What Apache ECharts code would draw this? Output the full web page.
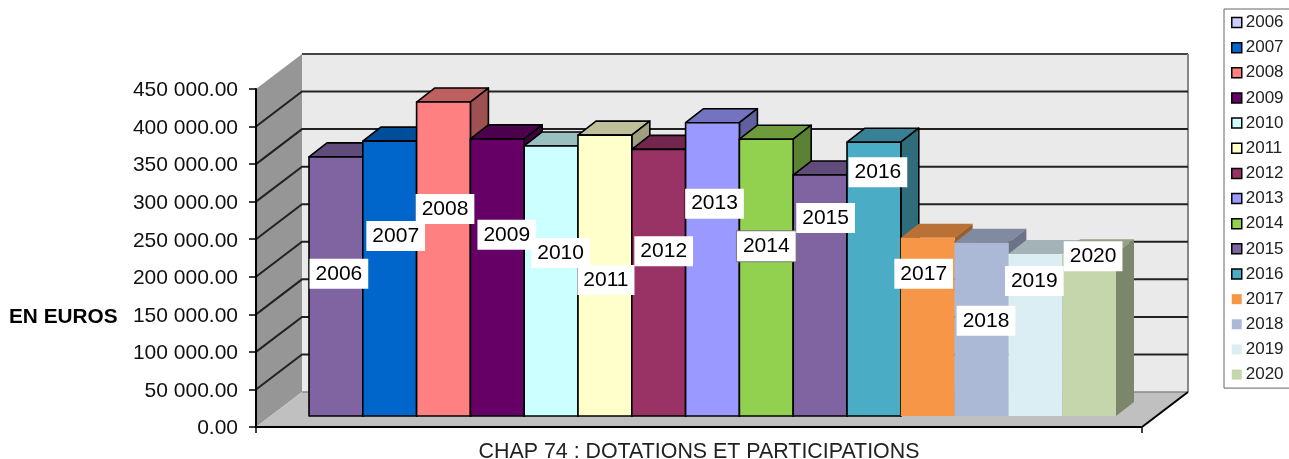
<!doctype html>
<html lang="fr">
<head>
    <meta charset="UTF-8">
    <title>CHAP 74 : DOTATIONS ET PARTICIPATIONS</title>
    <style>
        html, body { margin: 0; padding: 0; background: #fff; }
        #main { width: 1289px; height: 459px; }
    </style>
</head>
<body>
<div id="main"></div>
<script src="https://cdn.jsdelivr.net/npm/echarts@6/dist/echarts.min.js"></script>
<script type="text/javascript">
    const categories = ['CHAP 74 : DOTATIONS ET PARTICIPATIONS']
    const years = ['2006', '2007', '2008', '2009', '2010', '2011', '2012', '2013', '2014', '2015', '2016', '2017', '2018', '2019', '2020']
    const values = [345000, 366000, 418000, 369000, 359500, 374000, 355000, 390500, 368500, 320800, 364500, 237300, 230500, 215700, 216700]
    const barColors = ['#8064A2', '#0066CC', '#FF8080', '#660066', '#CCFFFF', '#FFFFCC', '#993366', '#9999FF', '#92D050', '#8064A2', '#4BACC6', '#F79646', '#ABB9D7', '#DBEEF4', '#C6D6AC']
    const legendColors = ['#CCCCFF', '#0066CC', '#FF8080', '#660066', '#CCFFFF', '#FFFFCC', '#993366', '#9999FF', '#92D050', '#8064A2', '#4BACC6', '#F79646', '#ABB9D7', '#DBEEF4', '#C6D6AC']
    const yTicks = [0, 50000, 100000, 150000, 200000, 250000, 300000, 350000, 400000, 450000]
    const yTickLabels = ['0.00', '50 000.00', '100 000.00', '150 000.00', '200 000.00', '250 000.00', '300 000.00', '350 000.00', '400 000.00', '450 000.00']
    // hand placed labels in the original: shift from the bar's top centre
    const labelShifts = [[3, 117], [6, 95], [1.5, 107], [9.5, 96], [9.5, 107], [1, 145], [5, 102], [2, 81], [0, 107], [5.5, 43], [4, 30], [-4, 36], [4.5, 78], [-1, 27], [4, 3]]

    const FONT = '"Liberation Sans", Arial, sans-serif'
    const WALL_DX = 46, WALL_DY = 35   // depth of the 3D box
    const BAR_DX = 18, BAR_DY = 14     // depth of one bar
    const FLOOR_DY = 11                // bars stand this far behind the front edge
    const BARS_SHIFT = 13.5
    const BARS_RATIO = 807 / 886       // share of the category band used by the bars
    const OUTLINED = 11                // the last years have no outline

    function shade(hex, k) {
        const n = parseInt(hex.slice(1), 16)
        const ch = s => Math.round(((n >> s) & 255) * k)
        return `rgb(${ch(16)},${ch(8)},${ch(0)})`
    }

    function barFront(api, i, value) {
        const base = api.coord([0, 0])
        const top = api.coord([0, value])
        const bw = api.size([1, 0])[0] * BARS_RATIO / years.length
        const x = base[0] + BARS_SHIFT + (i - years.length / 2) * bw
        return { x, w: bw, yTop: top[1] - FLOOR_DY, yBase: base[1] - FLOOR_DY }
    }

    function renderWalls(params, api) {
        const c = params.coordSys
        const l = c.x, r = c.x + c.width, t = c.y, b = c.y + c.height
        const dx = WALL_DX, dy = WALL_DY
        const poly = (points, fill) => ({ type: 'polygon', shape: { points }, style: { fill } })
        const line = (x1, y1, x2, y2, stroke, lineWidth) => ({ type: 'line', shape: { x1, y1, x2, y2 }, style: { stroke, lineWidth } })
        return {
            type: 'group',
            children: [
                poly([[l + dx, t - dy], [r + dx, t - dy], [r + dx, b - dy], [l + dx, b - dy]], '#EAEAEA'),
                poly([[l, b], [l + dx, b - dy], [l + dx, t - dy], [l, t]], '#969696'),
                poly([[l, b], [r, b], [r + dx, b - dy], [l + dx, b - dy]], '#C0C0C0'),
                line(l + dx, t - dy, r + dx, t - dy, '#444', 2),
                line(r + dx, t - dy, r + dx, b - dy, '#888', 2),
                line(l + dx, b - dy, r + dx, b - dy, '#888', 1.5),
                line(l, b, r, b, '#000', 2),
                line(r, b, r + dx, b - dy, '#000', 2)
            ]
        }
    }

    function renderGridline(params, api) {
        const c = params.coordSys
        const y = api.coord([0, api.value(1)])[1]
        return {
            type: 'polyline',
            shape: { points: [[c.x, y], [c.x + WALL_DX, y - WALL_DY], [c.x + c.width + WALL_DX, y - WALL_DY]] },
            style: { fill: null, stroke: '#222', lineWidth: 2 }
        }
    }

    function renderBar(i) {
        return function (params, api) {
            const f = barFront(api, i, api.value(1))
            const fill = barColors[i]
            const stroke = i < OUTLINED ? '#000' : null
            const lineWidth = i < OUTLINED ? 1.6 : 0
            const xr = f.x + f.w
            const face = (points, color) => ({
                type: 'polygon',
                shape: { points },
                style: { fill: color, stroke, lineWidth, lineJoin: 'round' }
            })
            return {
                type: 'group',
                children: [
                    face([[f.x, f.yTop], [xr, f.yTop], [xr + BAR_DX, f.yTop - BAR_DY], [f.x + BAR_DX, f.yTop - BAR_DY]], shade(fill, 0.75)),
                    face([[xr, f.yTop], [xr + BAR_DX, f.yTop - BAR_DY], [xr + BAR_DX, f.yBase - BAR_DY], [xr, f.yBase]], shade(fill, 0.625)),
                    face([[f.x, f.yTop], [xr, f.yTop], [xr, f.yBase], [f.x, f.yBase]], fill)
                ]
            }
        }
    }

    function renderLabel(params, api) {
        const i = params.dataIndex
        const f = barFront(api, i, api.value(1))
        const boxed = years[i] === '2014'
        return {
            type: 'text',
            style: {
                x: f.x + f.w / 2 + labelShifts[i][0],
                y: f.yTop + labelShifts[i][1],
                text: years[i],
                font: '21px ' + FONT,
                fill: '#000',
                align: 'center',
                verticalAlign: 'middle',
                backgroundColor: '#fff',
                padding: [5, 6, 4, 6],
                borderColor: boxed ? '#777' : null,
                borderWidth: boxed ? 1 : 0
            }
        }
    }

    const barSeries = years.map((year, i) => ({
        name: year,
        type: 'custom',
        z: 2,
        clip: false,
        renderItem: renderBar(i),
        encode: { x: 0, y: 1 },
        itemStyle: { color: barColors[i] },
        data: [[0, values[i]]]
    }))

    const myChart = echarts.init(document.getElementById('main'), null, { renderer: 'canvas' })
    const option = {
        animation: false,
        backgroundColor: '#fff',
        title: {
            text: 'EN EUROS',
            left: 9,
            top: 307,
            padding: 0,
            textStyle: { fontFamily: FONT, fontSize: 20.8, fontWeight: 'bold', color: '#000' }
        },
        legend: {
            orient: 'vertical',
            left: 1224,
            top: 9,
            padding: [5, 30, 5, 7],
            itemWidth: 10,
            itemHeight: 10,
            itemGap: 8.15,
            selectedMode: false,
            borderColor: '#666',
            borderWidth: 1,
            textStyle: { fontFamily: FONT, fontSize: 17, color: '#222', padding: [0, 0, 0, -1] },
            data: years.map((year, i) => ({
                name: year,
                icon: 'rect',
                itemStyle: {
                    color: legendColors[i],
                    borderColor: i < OUTLINED ? '#000' : legendColors[i],
                    borderWidth: i < OUTLINED ? 1.5 : 0
                }
            }))
        },
        grid: { left: 256, top: 89, width: 886, height: 338, containLabel: false, outerBoundsMode: 'none' },
        xAxis: {
            type: 'category',
            data: categories,
            z: 3,
            axisLine: { show: false },
            axisTick: { show: true, length: 6, lineStyle: { color: '#000', width: 1.5 } },
            axisLabel: { fontFamily: FONT, fontSize: 21.4, color: '#222', margin: 15 }
        },
        yAxis: {
            type: 'value',
            min: 0,
            max: 450000,
            interval: 50000,
            z: 3,
            splitLine: { show: false },
            axisLine: { show: true, lineStyle: { color: '#000', width: 2 } },
            axisTick: { show: true, length: 7, lineStyle: { color: '#000', width: 1.5 } },
            axisLabel: {
                color: '#111',
                margin: 18,
                formatter: v => '{t|' + yTickLabels[yTicks.indexOf(v)] + '}',
                rich: { t: { fontFamily: FONT, fontSize: 21, color: '#111', padding: [3, 0, 0, 0] } }
            }
        },
        series: [
            { name: 'walls', type: 'custom', z: 0, clip: false, renderItem: renderWalls, encode: { x: 0, y: 1 }, data: [[0, 0]] },
            {
                name: 'gridlines',
                type: 'custom',
                z: 1,
                clip: false,
                renderItem: renderGridline,
                encode: { x: 0, y: 1 },
                data: yTicks.slice(1, -1).map(v => [0, v])
            },
            ...barSeries,
            {
                name: 'labels',
                type: 'custom',
                z: 5,
                clip: false,
                renderItem: renderLabel,
                encode: { x: 0, y: 1 },
                data: values.map(v => [0, v])
            }
        ]
    }
    myChart.setOption(option)
</script>
</body>
</html>
